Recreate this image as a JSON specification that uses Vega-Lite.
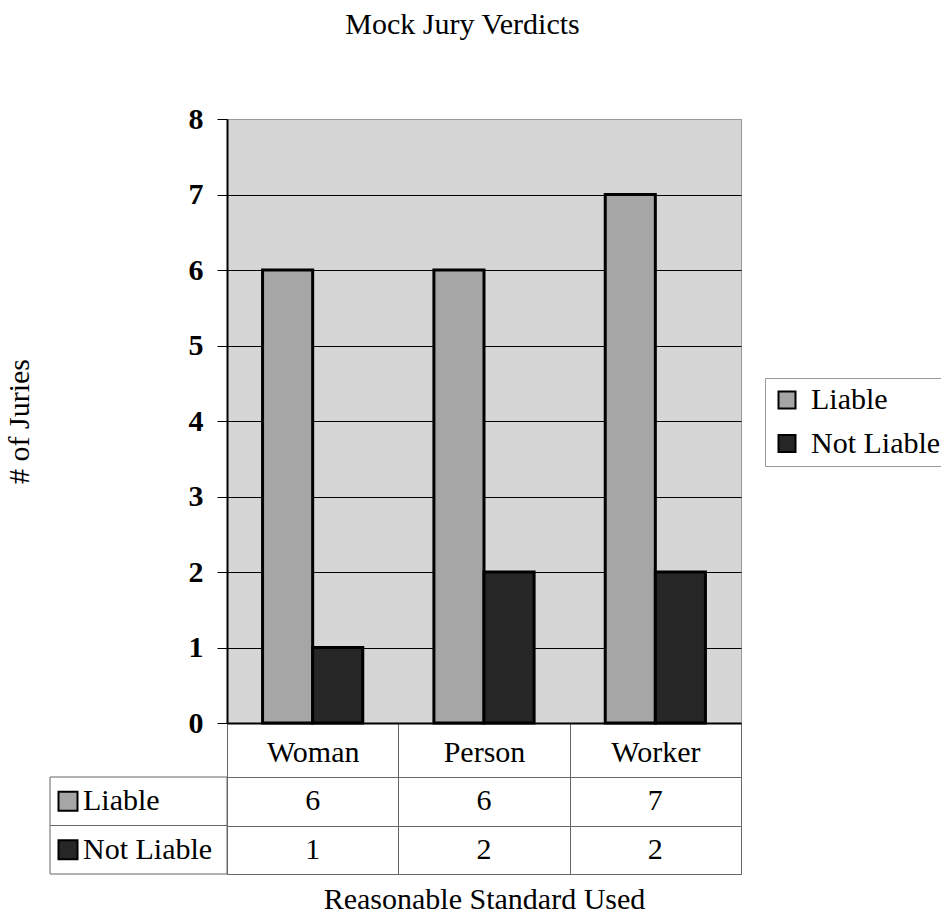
{
  "$schema": "https://vega.github.io/schema/vega-lite/v6.json",
  "padding": {"left": 3, "top": 9, "right": 0, "bottom": 0},
  "background": "white",
  "title": {"text": "Mock Jury Verdicts", "anchor": "middle", "frame": "group", "fontSize": 30, "font": "Liberation Serif", "fontWeight": "normal", "color": "black", "offset": 64, "dx": 412.5},
  "datasets": {
    "verdicts": [
      {"standard": "Woman", "verdict": "Liable", "juries": 6},
      {"standard": "Woman", "verdict": "Not Liable", "juries": 1},
      {"standard": "Person", "verdict": "Liable", "juries": 6},
      {"standard": "Person", "verdict": "Not Liable", "juries": 2},
      {"standard": "Worker", "verdict": "Liable", "juries": 7},
      {"standard": "Worker", "verdict": "Not Liable", "juries": 2}
    ]
  },
  "columns": 2,
  "spacing": {"row": 54, "column": 0},
  "bounds": "flush",
  "resolve": {"scale": {"color": "independent", "x": "independent", "y": "independent"}, "legend": {"color": "independent"}},
  "config": {
    "view": {"stroke": null},
    "font": "Liberation Serif",
    "text": {"font": "Liberation Serif"},
    "axis": {"labelColor": "black", "titleColor": "black", "titleFontWeight": "normal", "labelFont": "Liberation Serif", "titleFont": "Liberation Serif"},
    "legend": {"labelFont": "Liberation Serif", "titleFont": "Liberation Serif"}
  },
  "concat": [
    {
      "width": 177, "height": 604,
      "data": {"name": "verdicts"},
      "mark": {"type": "point", "opacity": 0},
      "encoding": {}
    },
    {
      "width": 514, "height": 604,
      "view": {"fill": "#d6d6d6", "stroke": "#999"},
      "data": {"name": "verdicts"},
      "mark": {"type": "bar", "stroke": "black", "strokeWidth": 3},
      "encoding": {
        "x": {"field": "standard", "type": "nominal", "sort": ["Woman", "Person", "Worker"],
          "scale": {"paddingInner": 0, "paddingOuter": 0},
          "axis": {"title": null, "labelFont": "Liberation Serif", "labelFontSize": 30, "labelAngle": 0, "labelPadding": -40, "ticks": true, "tickSize": 54, "tickColor": "#666", "tickBand": "extent", "domainColor": "black", "domainWidth": 2, "grid": false}},
        "xOffset": {"field": "verdict", "type": "nominal", "sort": ["Liable", "Not Liable"], "scale": {"paddingInner": 0, "paddingOuter": 0.71}},
        "y": {"field": "juries", "type": "quantitative", "scale": {"domain": [0, 8], "nice": false},
          "axis": {"values": [0, 1, 2, 3, 4, 5, 6, 7, 8], "title": "# of Juries", "titleFont": "Liberation Serif", "titleFontSize": 30, "titlePadding": 154,
            "labelFont": "Liberation Serif", "labelFontSize": 30, "labelFontWeight": "bold", "labelPadding": 14, "tickSize": 10, "tickColor": "black",
            "domainColor": "black", "domainWidth": 2, "grid": true,
            "gridColor": {"condition": {"test": "datum.value == 8", "value": "#999"}, "value": "black"}, "gridWidth": 1}},
        "color": {"field": "verdict", "type": "nominal", "sort": ["Liable", "Not Liable"],
          "scale": {"domain": ["Liable", "Not Liable"], "range": ["#a6a6a6", "#262626"]},
          "legend": {"orient": "none", "legendX": 538, "legendY": 259, "title": null, "direction": "vertical",
            "labelFont": "Liberation Serif", "labelFontSize": 30, "labelColor": "black", "labelLimit": 300, "symbolType": "square", "symbolSize": 289,
            "symbolStrokeColor": "black", "symbolStrokeWidth": 2, "labelOffset": 9, "rowPadding": 13.5, "padding": 7, "strokeColor": "#999"}}
      }
    },
    {
      "width": 177, "height": 97,
      "data": {"name": "verdicts"},
      "transform": [{"aggregate": [{"op": "count", "as": "n"}], "groupby": ["verdict"]}],
      "encoding": {"y": {"field": "verdict", "type": "nominal", "sort": ["Liable", "Not Liable"], "scale": {"paddingInner": 0, "paddingOuter": 0}, "axis": null}},
      "layer": [
        {"mark": {"type": "rect", "fill": "white", "stroke": "#666", "strokeWidth": 1}},
        {"mark": {"type": "point", "shape": "square", "filled": true, "size": 361, "stroke": "black", "strokeWidth": 2, "opacity": 1, "xOffset": -70.5},
          "encoding": {"color": {"field": "verdict", "type": "nominal", "scale": {"domain": ["Liable", "Not Liable"], "range": ["#a6a6a6", "#262626"]}, "legend": null}}},
        {"mark": {"type": "text", "align": "left", "dx": -55.5, "font": "Liberation Serif", "fontSize": 30, "baseline": "middle", "color": "black"},
          "encoding": {"text": {"field": "verdict", "type": "nominal"}}}
      ]
    },
    {
      "width": 514, "height": 97,
      "view": {"stroke": "#666"},
      "data": {"name": "verdicts"},
      "mark": {"type": "text", "font": "Liberation Serif", "fontSize": 30, "baseline": "middle", "color": "black"},
      "encoding": {
        "x": {"field": "standard", "type": "nominal", "sort": ["Woman", "Person", "Worker"], "scale": {"paddingInner": 0, "paddingOuter": 0},
          "axis": {"labels": false, "ticks": false, "domain": false, "grid": true, "gridColor": "#666", "tickBand": "extent", "title": "Reasonable Standard Used", "titleFont": "Liberation Serif", "titleFontSize": 30, "titlePadding": 10}},
        "y": {"field": "verdict", "type": "nominal", "sort": ["Liable", "Not Liable"], "scale": {"paddingInner": 0, "paddingOuter": 0},
          "axis": {"labels": false, "ticks": false, "domain": false, "grid": true, "gridColor": "#666", "tickBand": "extent", "title": null}},
        "text": {"field": "juries", "type": "quantitative"}
      }
    }
  ]
}
